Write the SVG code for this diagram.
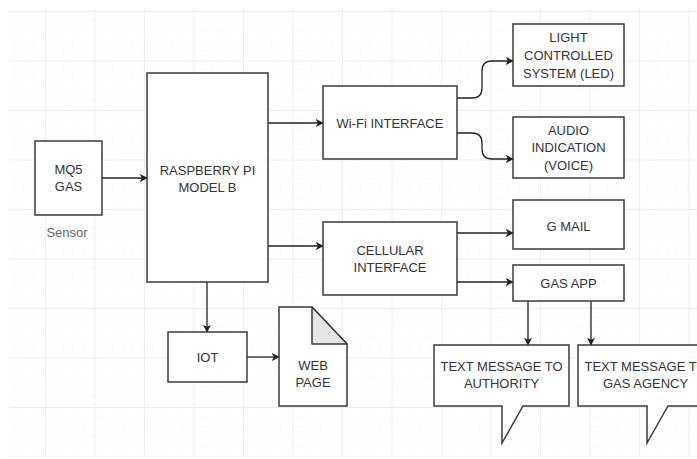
<svg xmlns="http://www.w3.org/2000/svg" width="697" height="459" viewBox="0 0 697 459">
<defs>
<pattern id="minor" x="4.5" y="1.1" width="9.9" height="9.9" patternUnits="userSpaceOnUse">
<path d="M9.9 0V9.9M0 9.9H9.9" fill="none" stroke="#fafafa" stroke-width="1"/>
</pattern>
<pattern id="major" x="-4.5" y="11" width="49.5" height="49.5" patternUnits="userSpaceOnUse">
<path d="M0.5 0V49.5M0 0.5H49.5" fill="none" stroke="#eeeeee" stroke-width="1"/>
</pattern>
<marker id="arr" viewBox="0 0 10 10" refX="9" refY="5" markerWidth="8" markerHeight="8" markerUnits="userSpaceOnUse" orient="auto">
<path d="M0 0L10 5L0 10L2.5 5Z" fill="#222"/>
</marker>
</defs>
<style>
.box{fill:#fff;stroke:#3a3a3a;stroke-width:1.5}
.t{font-family:"Liberation Sans",Arial,sans-serif;font-size:13px;fill:#333;text-anchor:middle}
.s{fill:#666}
.c{fill:none;stroke:#222;stroke-width:1.3;marker-end:url(#arr)}
</style>
<rect width="697" height="459" fill="#fff"/>
<rect x="9" y="9" width="688" height="448" fill="url(#minor)"/>
<rect x="9" y="9" width="688" height="448" fill="url(#major)"/>

<g id="connectors">
<path class="c" d="M102 178H147"/>
<path class="c" d="M268 123H323"/>
<path class="c" d="M268 246H323"/>
<path class="c" d="M207 282V332"/>
<path class="c" d="M247 357H279"/>
<path class="c" d="M457 98H472Q482 98 482 88V71Q482 61 492 61H513"/>
<path class="c" d="M457 133H472Q482 133 482 143V149Q482 159 492 159H513"/>
<path class="c" d="M457 233H513"/>
<path class="c" d="M457 282H513"/>
<path class="c" d="M528 301V345"/>
<path class="c" d="M591 301V345"/>
</g>

<g id="mq5">
<rect class="box" x="35" y="141" width="67" height="74"/>
<text class="t" x="68.5" y="174">MQ5</text>
<text class="t" x="68.5" y="191">GAS</text>
</g>
<g id="sensor-label">
<text class="t s" x="67" y="237">Sensor</text>
</g>
<g id="rpi">
<rect class="box" x="147" y="73" width="121" height="209"/>
<text class="t" x="207.5" y="175">RASPBERRY PI</text>
<text class="t" x="207.5" y="192">MODEL B</text>
</g>
<g id="wifi">
<rect class="box" x="323" y="86" width="134" height="73"/>
<text class="t" x="390" y="128">Wi-Fi INTERFACE</text>
</g>
<g id="led">
<rect class="box" x="513" y="24" width="111" height="62"/>
<text class="t" x="568.5" y="42">LIGHT</text>
<text class="t" x="568.5" y="60">CONTROLLED</text>
<text class="t" x="568.5" y="78">SYSTEM (LED)</text>
</g>
<g id="audio">
<rect class="box" x="513" y="117" width="111" height="61"/>
<text class="t" x="568.5" y="135">AUDIO</text>
<text class="t" x="568.5" y="152">INDICATION</text>
<text class="t" x="568.5" y="170">(VOICE)</text>
</g>
<g id="cellular">
<rect class="box" x="323" y="222" width="134" height="73"/>
<text class="t" x="390" y="255">CELLULAR</text>
<text class="t" x="390" y="272">INTERFACE</text>
</g>
<g id="gmail">
<rect class="box" x="513" y="200" width="111" height="49"/>
<text class="t" x="568.5" y="231">G MAIL</text>
</g>
<g id="gasapp">
<rect class="box" x="513" y="265" width="111" height="36"/>
<text class="t" x="568.5" y="288">GAS APP</text>
</g>
<g id="iot">
<rect class="box" x="168" y="332" width="79" height="50"/>
<text class="t" x="207.5" y="362">IOT</text>
</g>
<g id="webpage">
<path class="box" d="M279 307H312L347 344V406H279Z"/>
<path d="M312 307V344H347Z" fill="#e6e6e6" stroke="#3a3a3a" stroke-width="1.5" stroke-linejoin="round"/>
<text class="t" x="313" y="370">WEB</text>
<text class="t" x="313" y="387">PAGE</text>
</g>
<g id="msg-authority">
<path class="box" d="M434 345H569V406H523L502 443V406H434Z"/>
<text class="t" x="501.5" y="371">TEXT MESSAGE TO</text>
<text class="t" x="501.5" y="388">AUTHORITY</text>
</g>
<g id="msg-agency">
<path class="box" d="M578 345H713V406H668L647 443V406H578Z"/>
<text class="t" x="645.5" y="371">TEXT MESSAGE TO</text>
<text class="t" x="645.5" y="388">GAS AGENCY</text>
</g>
</svg>
